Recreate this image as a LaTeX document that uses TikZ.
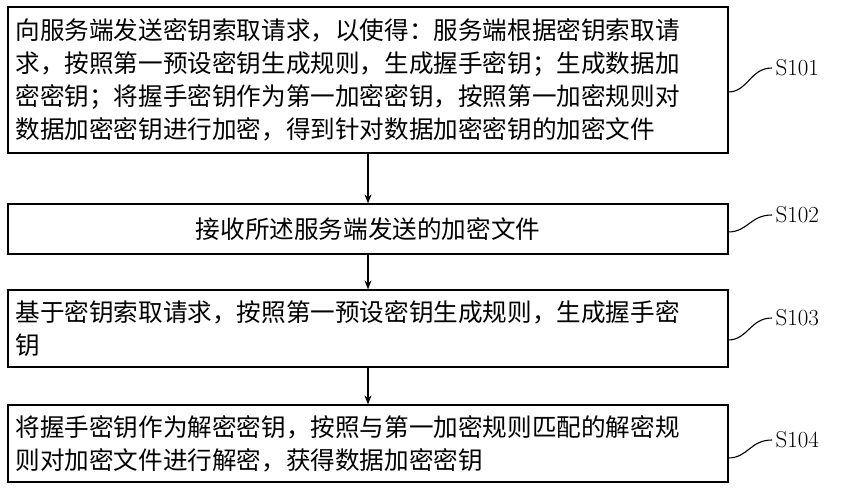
\documentclass[tikz,border=0pt]{standalone}
\usepackage{fontspec}
\newfontfamily\cjk{Noto Sans CJK SC}
\usetikzlibrary{arrows.meta}
\begin{document}
\begin{tikzpicture}[x=1pt,y=-1pt,
  box/.style={draw,line width=1.2pt,minimum width=720pt,inner sep=0pt},
  txt/.style={font=\cjk\fontsize{24.6}{33}\selectfont,align=left,anchor=west},
  lab/.style={font=\fontsize{23}{26}\selectfont,anchor=west},
  arr/.style={-{Stealth[length=9pt,width=7pt]},line width=1.2pt},
  lead/.style={line width=1.1pt}]
\useasboundingbox (0,0) rectangle (842,500);
\node[box,minimum height=146pt] (b1) at (368,80) {};
\node[box,minimum height=50pt] (b2) at (368,229) {};
\node[box,minimum height=77pt] (b3) at (368,328.5) {};
\node[box,minimum height=77pt] (b4) at (368,443.5) {};
\node[txt] (t1) at (12,80) {向服务端发送密钥索取请求，以使得：服务端根据密钥索取请\\求，按照第一预设密钥生成规则，生成握手密钥；生成数据加\\密密钥；将握手密钥作为第一加密密钥，按照第一加密规则对\\数据加密密钥进行加密，得到针对数据加密密钥的加密文件};
\node[font=\cjk\fontsize{24.6}{33}\selectfont] (t2) at (368,229) {接收所述服务端发送的加密文件};
\node[txt] (t3) at (12,328.5) {基于密钥索取请求，按照第一预设密钥生成规则，生成握手密\\钥};
\node[txt] (t4) at (12,443.5) {将握手密钥作为解密密钥，按照与第一加密规则匹配的解密规\\则对加密文件进行解密，获得数据加密密钥};
\draw[arr] (b1.south) -- (b2.north);
\draw[arr] (b2.south) -- (b3.north);
\draw[arr] (b3.south) -- (b4.north);
\node[lab] (s1) at (772,68) {S101};
\node[lab] (s2) at (772,215) {S102};
\node[lab] (s3) at (772,318) {S103};
\node[lab] (s4) at (772,440) {S104};
\coordinate (c1) at (728,92);
\coordinate (c2) at (728,232);
\coordinate (c3) at (728,340);
\coordinate (c4) at (728,458);
\foreach \i in {1,2,3,4}{
  \draw[lead] (c\i) .. controls ([xshift=20pt]c\i) and ([xshift=-22pt]s\i.west) .. (s\i.west);
}
\end{tikzpicture}
\end{document}
